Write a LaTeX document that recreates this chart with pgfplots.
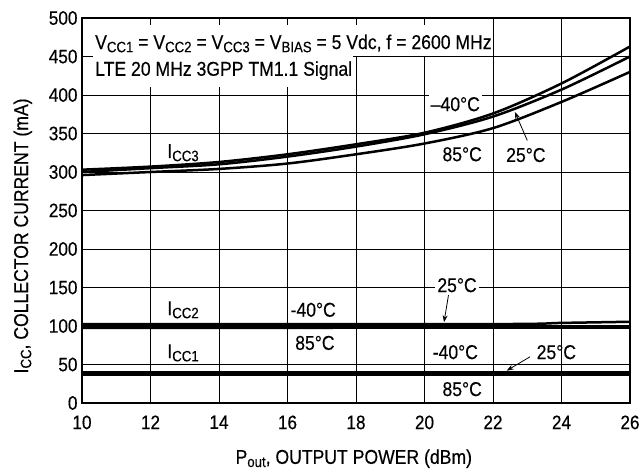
\documentclass[border=0pt]{standalone}
\usepackage{pgfplots}
\pgfplotsset{compat=1.18}
\usetikzlibrary{arrows.meta}
\usepackage{fontspec}
\setmainfont{Liberation Sans}[FakeStretch=0.88, FakeBold=0.35]
\newcommand{\fs}[1]{\fontsize{#1bp}{#1bp}\selectfont}
\newcommand{\sub}[1]{\raisebox{-0.3ex}{\fontsize{15bp}{15bp}\selectfont #1}}
\begin{document}
\begin{tikzpicture}
\begin{axis}[
  at={(0,0)}, anchor=south west,
  scale only axis, width=548bp, height=385bp,
  xmin=10, xmax=26, ymin=0, ymax=500,
  xtick={10,12,...,26}, ytick={0,50,...,500},
  grid=major, major grid style={black, line width=0.9bp},
  major tick length=0pt,
  axis line style={black, line width=1.2bp},
  /pgf/number format/assume math mode=true,
  tick label style={font=\fs{19.5}},
  xticklabel style={yshift=-9bp},
  yticklabel style={xshift=-1bp},
  label style={font=\fs{20}},
  xlabel={P\sub{out}, OUTPUT POWER (dBm)},
  ylabel={I\sub{CC}, COLLECTOR CURRENT (mA)},
  xlabel style={at={(axis description cs:0.496,-0.158)}, anchor=base},
  ylabel style={at={(axis description cs:-0.0985,0.434)}, anchor=base, rotate=0},
  clip=false,
]
% white boxes behind the condition text
\fill[white] (axis cs:10.32,491) rectangle (axis cs:22.0,451);
\fill[white] (axis cs:10.32,451) rectangle (axis cs:17.9,410.5);
\node[anchor=base west, font=\fs{20}, inner sep=0pt] at (axis cs:10.38,459.7)
  {V\sub{CC1} = V\sub{CC2} = V\sub{CC3} = V\sub{BIAS} = 5 Vdc, f = 2600 MHz};
\node[anchor=base west, font=\fs{20}, inner sep=0pt] at (axis cs:10.38,425)
  {LTE 20 MHz 3GPP TM1.1 Signal};

% I_CC3 curves (-40, 25, 85 degC)
\addplot[black, line width=2.5bp, smooth] coordinates {
 (10,303) (12,307) (14,313) (16,323) (18,336) (20,351) (22,376) (24,415) (26,463)};
\addplot[black, line width=2.5bp, smooth] coordinates {
 (10,300) (12,305) (14,310) (16,320) (18,333) (20,349) (22,372) (24,407) (26,450)};
\addplot[black, line width=2.5bp, smooth] coordinates {
 (10,296) (12,300) (14,304) (16,311) (18,323) (20,337) (22,357) (24,391) (26,430)};

% I_CC2 curves
\addplot[black, line width=2.5bp] coordinates {(10,97.5) (26,98)};
\addplot[black, line width=2.5bp] coordinates {(10,100) (26,100)};
\addplot[black, line width=2.5bp, smooth] coordinates {(10,102.5) (22,102.5) (24,104) (26,105.5)};

% I_CC1 curves
\addplot[black, line width=2.5bp] coordinates {(10,36.5) (26,36.5)};
\addplot[black, line width=2.5bp] coordinates {(10,38.5) (26,38.5)};
\addplot[black, line width=2.5bp] coordinates {(10,40.5) (26,40.5)};

% thick left and bottom axis lines
\draw[black, line width=2.5bp] (axis cs:10,500) -- (axis cs:10,0) -- (axis cs:26,0);

% labels
\node[font=\fs{20}] at (axis cs:12.95,325) {I\sub{CC3}};
\node[font=\fs{20}] at (axis cs:12.95,121) {I\sub{CC2}};
\node[font=\fs{20}] at (axis cs:12.95,65) {I\sub{CC1}};

\node[font=\fs{20}, fill=white, inner sep=2bp] at (axis cs:20.9,388) {--40°C};
\node[font=\fs{20}] at (axis cs:21.1,323) {85°C};
\node[font=\fs{20}] at (axis cs:22.96,322) {25°C};
\draw[thick, -{Stealth[length=7bp,width=5bp]}] (axis cs:23.0,341) -- (axis cs:22.64,378);

\node[font=\fs{20}] at (axis cs:16.75,121) {-40°C};
\node[font=\fs{20}] at (axis cs:16.8,78) {85°C};
\node[font=\fs{20}, fill=white, inner sep=2bp] at (axis cs:20.95,153) {25°C};
\draw[thick, -{Stealth[length=7bp,width=5bp]}] (axis cs:20.7,140) -- (axis cs:20.57,105);

\node[font=\fs{20}] at (axis cs:20.9,66) {-40°C};
\node[font=\fs{20}] at (axis cs:21.1,18) {85°C};
\node[font=\fs{20}] at (axis cs:23.85,66) {25°C};
\draw[thick, -{Stealth[length=7bp,width=5bp]}] (axis cs:23.08,60) -- (axis cs:22.4,42);
\end{axis}
\pgfresetboundingbox
\path (-82bp,-67bp) rectangle (557bp,403bp);
\end{tikzpicture}
\end{document}
